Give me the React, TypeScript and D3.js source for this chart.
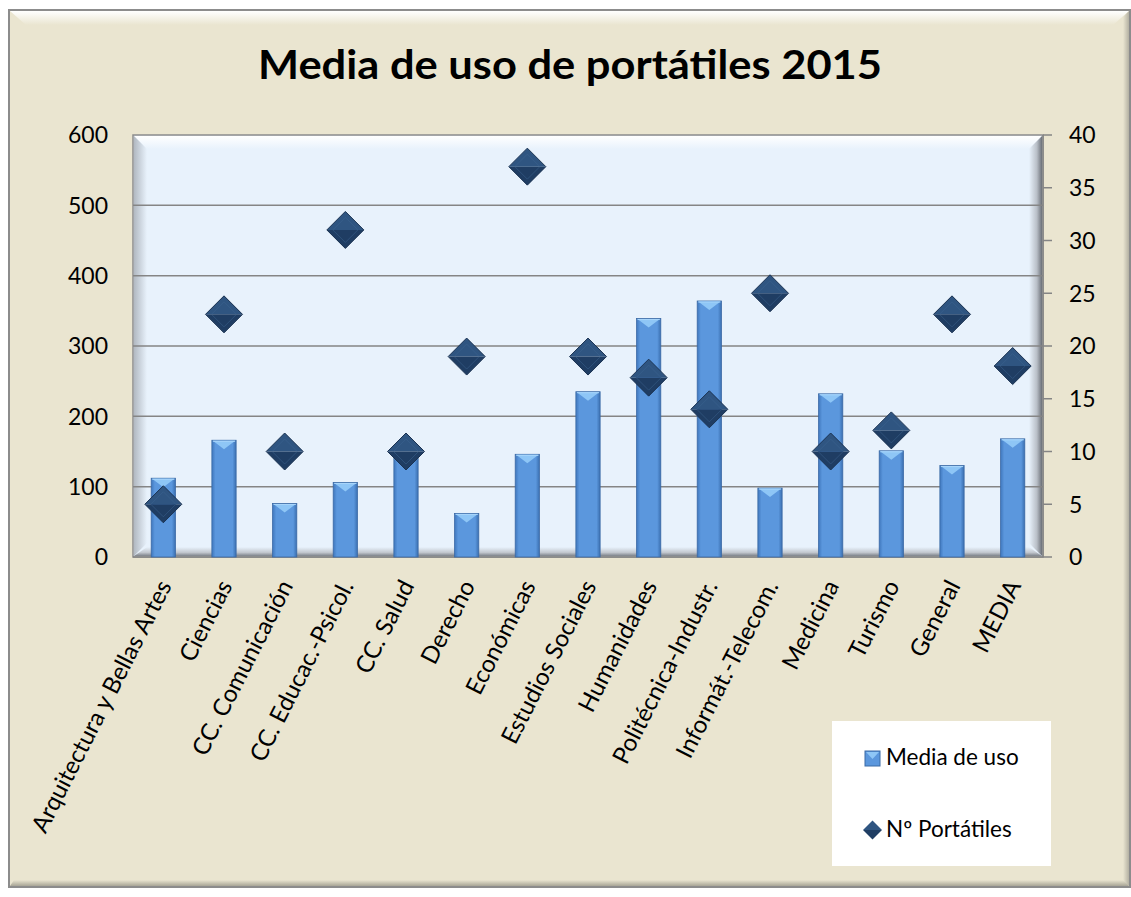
import React from "react";
import * as d3 from "d3";

const categories = [
  "Arquitectura y Bellas Artes",
  "Ciencias",
  "CC. Comunicación",
  "CC. Educac.-Psicol.",
  "CC. Salud",
  "Derecho",
  "Económicas",
  "Estudios Sociales",
  "Humanidades",
  "Politécnica-Industr.",
  "Informát.-Telecom.",
  "Medicina",
  "Turismo",
  "General",
  "MEDIA",
];
const mediaUso = [112, 166, 76, 106, 140, 62, 146, 235, 339, 364, 98, 232, 151, 130, 168];
const numPortatiles = [5, 23, 10, 31, 10, 19, 37, 19, 17, 14, 25, 10, 12, 23, 18.1];
const leftTicks = [0, 100, 200, 300, 400, 500, 600];
const rightTicks = [0, 5, 10, 15, 20, 25, 30, 35, 40];
const title = "Media de uso de portátiles 2015";
const seriesNames = ["Media de uso", "Nº Portátiles"];

const W = 1131;
const H = 897;
const PL = 133, PR = 1043, PT = 135, PB = 557;
const FONT = "Lato, 'Open Sans', sans-serif";

export default function App() {
  const x = d3.scaleBand<string>().domain(categories).range([PL, PR]).paddingInner(0.6).paddingOuter(0.3);
  const yL = d3.scaleLinear().domain([0, 600]).range([PB, PT]);
  const yR = d3.scaleLinear().domain([0, 40]).range([PB, PT]);
  const bw = x.bandwidth();
  const dHalf = 18.5;

  return (
    <svg width={W} height={H} style={{ position: "absolute", left: 0, top: 0, display: "block" }} fontFamily={FONT}>
      <defs>
        <linearGradient id="barGrad" x1="0" x2="1" y1="0" y2="0">
          <stop offset="0" stopColor="#3f77bd" />
          <stop offset="0.15" stopColor="#5b97dd" />
          <stop offset="0.85" stopColor="#5b97dd" />
          <stop offset="1" stopColor="#3a6fb0" />
        </linearGradient>
        <linearGradient id="topStrip" x1="0" x2="0" y1="0" y2="1">
          <stop offset="0" stopColor="#ffffff" />
          <stop offset="1" stopColor="#e8f2fc" />
        </linearGradient>
        <linearGradient id="rightStrip" x1="0" x2="1" y1="0" y2="0">
          <stop offset="0" stopColor="#e8f2fc" />
          <stop offset="0.6" stopColor="#b9bfc7" />
          <stop offset="1" stopColor="#6b7078" />
        </linearGradient>
        <linearGradient id="leftStrip" x1="0" x2="1" y1="0" y2="0">
          <stop offset="0" stopColor="#9aa0a8" />
          <stop offset="1" stopColor="#e8f2fc" />
        </linearGradient>
        <linearGradient id="bottomStrip" x1="0" x2="0" y1="0" y2="1">
          <stop offset="0" stopColor="#e8f2fc" />
          <stop offset="0.6" stopColor="#c3c8cf" />
          <stop offset="1" stopColor="#7d828a" />
        </linearGradient>
        <linearGradient id="outerTop" x1="0" x2="0" y1="0" y2="1">
          <stop offset="0" stopColor="#ffffff" />
          <stop offset="1" stopColor="#eae5d0" />
        </linearGradient>
        <linearGradient id="outerBottom" x1="0" x2="0" y1="0" y2="1">
          <stop offset="0" stopColor="#eae5d0" />
          <stop offset="1" stopColor="#a8a596" />
        </linearGradient>
        <linearGradient id="outerRight" x1="0" x2="1" y1="0" y2="0">
          <stop offset="0" stopColor="#eae5d0" />
          <stop offset="1" stopColor="#b3b0a2" />
        </linearGradient>
      </defs>

      {/* outer chart area */}
      <rect x={0} y={0} width={W} height={H} fill="#ffffff" />
      <rect x={9} y={10} width={1121} height={877} fill="#eae5d0" stroke="#8c8c8c" strokeWidth={2} />
      <polygon points={`10,11 1129,11 1113,25 26,25`} fill="url(#outerTop)" />
      <polygon points={`10,886 1129,886 1125,880 14,880`} fill="url(#outerBottom)" />
      <polygon points={`1129,11 1129,886 1123,880 1123,17`} fill="url(#outerRight)" />

      {/* title */}
      <text x={570} y={79} textAnchor="middle" fontSize={41} fontWeight={700} fill="#000" textLength={624} lengthAdjust="spacingAndGlyphs">
        {title}
      </text>

      {/* plot area */}
      <rect x={PL} y={PT} width={PR - PL} height={PB - PT} fill="#e8f2fc" stroke="#8c8c8c" strokeWidth={1.5} />
      <polygon points={`${PL + 1},${PT + 1} ${PR - 1},${PT + 1} ${PR - 14},${PT + 14} ${PL + 14},${PT + 14}`} fill="url(#topStrip)" />
      <polygon points={`${PL + 1},${PT + 1} ${PL + 14},${PT + 14} ${PL + 14},${PB - 14} ${PL + 1},${PB - 1}`} fill="url(#leftStrip)" opacity={0.7} />
      <polygon points={`${PR - 1},${PT + 1} ${PR - 14},${PT + 14} ${PR - 14},${PB - 14} ${PR - 1},${PB - 1}`} fill="url(#rightStrip)" />
      <polygon points={`${PL + 1},${PB - 1} ${PR - 1},${PB - 1} ${PR - 14},${PB - 10} ${PL + 14},${PB - 10}`} fill="url(#bottomStrip)" />

      {/* gridlines */}
      {leftTicks.filter((t) => t > 0 && t < 600).map((t) => (
        <line key={t} x1={PL} x2={PR} y1={yL(t)} y2={yL(t)} stroke="#858585" strokeWidth={1.5} />
      ))}
      <line x1={PL} x2={PR} y1={PB} y2={PB} stroke="#858585" strokeWidth={1.5} />
      <line x1={PR} x2={PR} y1={PT} y2={PB} stroke="#858585" strokeWidth={1.5} />

      {/* left axis labels */}
      {leftTicks.map((t) => (
        <text key={t} x={108} y={yL(t)} dy="0.36em" textAnchor="end" fontSize={23} fill="#000">
          {t}
        </text>
      ))}

      {/* right axis ticks and labels */}
      {rightTicks.map((t) => (
        <g key={t}>
          <line x1={PR} x2={PR + 9} y1={yR(t)} y2={yR(t)} stroke="#858585" strokeWidth={1.5} />
          <text x={1069} y={yR(t)} dy="0.36em" textAnchor="start" fontSize={23} fill="#000">
            {t}
          </text>
        </g>
      ))}

      {/* bars */}
      {categories.map((c, i) => {
        const bx = x(c)!;
        const by = yL(mediaUso[i]);
        const h = PB - by;
        return (
          <g key={c}>
            <rect x={bx} y={by} width={bw} height={h} fill="url(#barGrad)" stroke="#3b6aa5" strokeWidth={0.8} />
            <polygon points={`${bx + 1},${by + 0.5} ${bx + bw - 1},${by + 0.5} ${bx + bw / 2},${by + 9}`} fill="#8ec6f6" />
            <line x1={bx + 1} x2={bx + bw - 1} y1={by + 1} y2={by + 1} stroke="#a9d6fb" strokeWidth={1} />
          </g>
        );
      })}

      {/* diamonds */}
      {categories.map((c, i) => {
        const cx = x(c)! + bw / 2;
        const cy = yR(numPortatiles[i]);
        return (
          <g key={c}>
            <polygon points={`${cx - dHalf},${cy} ${cx},${cy - dHalf} ${cx + dHalf},${cy}`} fill="#2f5581" />
            <polygon points={`${cx - dHalf},${cy} ${cx},${cy + dHalf} ${cx + dHalf},${cy}`} fill="#1f3d63" />
            <polygon points={`${cx - dHalf},${cy} ${cx},${cy - dHalf} ${cx + dHalf},${cy} ${cx},${cy + dHalf}`} fill="none" stroke="#1a3251" strokeWidth={1} />
            <polygon points={`${cx - dHalf + 6},${cy} ${cx},${cy - dHalf + 6} ${cx + dHalf - 6},${cy} ${cx},${cy + dHalf - 6}`} fill="none" stroke="#3d6591" strokeWidth={0.8} opacity={0.6} />
          </g>
        );
      })}

      {/* category labels */}
      {categories.map((c) => {
        const cx = x(c)! + bw / 2 - 6;
        const cy = 578;
        return (
          <text key={c} x={cx} y={cy} transform={`rotate(-63 ${cx} ${cy})`} textAnchor="end" dy="0.7em" fontSize={24} fill="#000">
            {c}
          </text>
        );
      })}

      {/* legend */}
      <rect x={832} y={721} width={219} height={145} fill="#ffffff" />
      <rect x={865} y={751} width={15} height={15} fill="#5b97dd" stroke="#3b6aa5" strokeWidth={1} />
      <polygon points="866,752 879,752 872.5,759" fill="#8ec6f6" />
      <text x={886} y={765} fontSize={22.5} fill="#000">{seriesNames[0]}</text>
      <polygon points="863,830 872.5,820.5 882,830" fill="#2f5581" />
      <polygon points="863,830 872.5,839.5 882,830" fill="#1f3d63" />
      <text x={886} y={837} fontSize={22.5} fill="#000">{seriesNames[1]}</text>
    </svg>
  );
}
